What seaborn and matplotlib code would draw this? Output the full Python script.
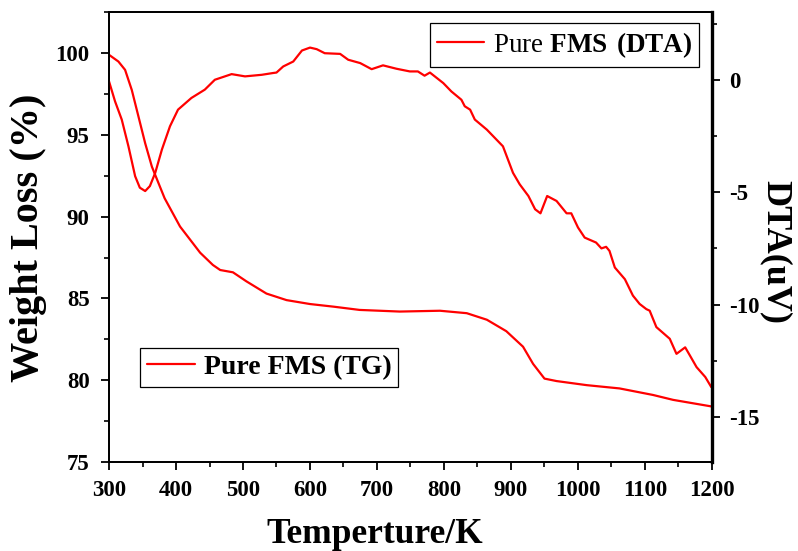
import matplotlib
matplotlib.use("Agg")
import matplotlib.pyplot as plt
from matplotlib.ticker import MultipleLocator
import pandas as pd
import seaborn as sns

# Thermogravimetric curve: temperature (K) vs weight (%)
tg_temp = [300, 314, 324, 334, 344, 354, 364, 374, 383, 406, 436, 455, 466,
           485, 505, 535, 565, 600, 635, 674, 734, 794, 834, 864, 893, 918,
           933, 950, 968, 1013, 1062, 1112, 1142, 1199]
tg_weight = [99.9, 99.49, 98.98, 97.75, 96.12, 94.49, 93.06, 92.04, 91.13,
             89.4, 87.8, 87.05, 86.74, 86.6, 86.05, 85.3, 84.9, 84.66, 84.5,
             84.3, 84.2, 84.25, 84.1, 83.7, 83.0, 82.05, 81.0, 80.1, 79.95,
             79.7, 79.5, 79.1, 78.8, 78.4]

# Differential thermal analysis curve: temperature (K) vs signal (uV)
dta_temp = [300, 309, 319, 329, 339, 346, 354, 361, 369, 379, 391, 403, 423,
            443, 458, 483, 503, 528, 545, 550, 560, 575, 588, 600, 610, 622,
            645, 657, 675, 692, 709, 729, 749, 761, 771, 779, 799, 811, 826,
            831, 839, 846, 864, 888, 903, 913, 926, 936, 944, 954, 968, 983,
            990, 1000, 1010, 1027, 1035, 1042, 1047, 1055, 1070, 1082, 1092,
            1102, 1107, 1117, 1137, 1147, 1160, 1167, 1177, 1190, 1199]
dta_signal = [-0.07, -0.96, -1.77, -2.96, -4.29, -4.80, -4.95, -4.73, -4.14,
              -3.10, -2.07, -1.33, -0.81, -0.44, 0.00, 0.25, 0.15, 0.22, 0.30,
              0.32, 0.59, 0.81, 1.30, 1.43, 1.36, 1.18, 1.15, 0.89, 0.74,
              0.47, 0.64, 0.49, 0.37, 0.37, 0.18, 0.32, -0.15, -0.52, -0.89,
              -1.18, -1.33, -1.77, -2.22, -2.96, -4.14, -4.65, -5.17, -5.76,
              -5.94, -5.17, -5.39, -5.94, -5.94, -6.57, -7.02, -7.24, -7.50,
              -7.43, -7.61, -8.35, -8.87, -9.60, -9.97, -10.20, -10.27,
              -11.00, -11.52, -12.19, -11.90, -12.26, -12.78, -13.22, -13.67]

x_ticks = [300, 400, 500, 600, 700, 800, 900, 1000, 1100, 1200]
tg_ticks = [75, 80, 85, 90, 95, 100]
dta_ticks = [-15, -10, -5, 0]

tg_df = pd.DataFrame({"Temperature": tg_temp, "Weight": tg_weight})
dta_df = pd.DataFrame({"Temperature": dta_temp, "DTA": dta_signal})

sns.set_theme(style="ticks")
plt.rcParams["font.family"] = ["Liberation Serif", "DejaVu Serif"]
plt.rcParams["font.weight"] = "bold"
plt.rcParams["mathtext.fontset"] = "custom"
plt.rcParams["mathtext.rm"] = "Liberation Serif"
plt.rcParams["mathtext.bf"] = "Liberation Serif:bold"
plt.rcParams["axes.unicode_minus"] = False
for key in ("text.color", "axes.labelcolor", "xtick.color", "ytick.color",
            "axes.edgecolor"):
    plt.rcParams[key] = "black"

fig = plt.figure(figsize=(7.98, 5.51), dpi=100)
ax = fig.add_axes([0.1366, 0.1615, 0.7556, 0.8162])
ax2 = ax.twinx()

red = "#ff0000"
sns.lineplot(data=tg_df, x="Temperature", y="Weight", ax=ax, color=red,
             lw=1.6, label="Pure FMS (TG)", legend=False, sort=False)
sns.lineplot(data=dta_df, x="Temperature", y="DTA", ax=ax2, color=red,
             lw=1.6, label=r"Pure $\mathbf{FMS\ (DTA)}$", legend=False,
             sort=False)

ax.set_xlim(300, 1200)
ax.set_ylim(75, 102.5)
ax2.set_ylim(-17, 3)

ax.set_xticks(x_ticks)
ax.set_yticks(tg_ticks)
ax2.set_yticks(dta_ticks)
ax.xaxis.set_minor_locator(MultipleLocator(50))
ax.yaxis.set_minor_locator(MultipleLocator(2.5))
ax2.yaxis.set_minor_locator(MultipleLocator(2.5))

tick_font = 16.5
ax.tick_params(axis="both", which="major", direction="out", length=6,
               width=1.3, labelsize=tick_font, colors="black")
ax.tick_params(axis="y", which="major", pad=8)
ax.tick_params(axis="x", which="major", pad=7)
ax.tick_params(axis="both", which="minor", direction="out", length=3.5,
               width=1.2, colors="black")
ax.tick_params(axis="x", top=False, which="both")
ax2.tick_params(axis="y", which="major", direction="out", length=6,
                width=1.3, labelsize=tick_font, colors="black", pad=6)
ax2.tick_params(axis="y", which="minor", direction="out", length=3.5,
                width=1.2, colors="black")
for lbl in ax.get_xticklabels() + ax.get_yticklabels() + ax2.get_yticklabels():
    lbl.set_fontweight("bold")

for sp in ax.spines.values():
    sp.set_linewidth(1.3)
    sp.set_color("black")
for sp in ax2.spines.values():
    sp.set_linewidth(1.3)
    sp.set_color("black")
ax2.spines["right"].set_linewidth(2.4)

ax.set_xlabel("Temperture/K", fontsize=25.5, fontweight="bold")
ax.xaxis.set_label_coords(0.441, -0.125)
ax.xaxis.label.set_va("top")

ax.set_ylabel("Weight Loss (%)", fontsize=29, fontweight="bold")
ax.yaxis.set_label_coords(-0.103, 0.498)

ax2.set_ylabel("DTA(uV)", fontsize=26, fontweight="bold", rotation=-90)
ax2.yaxis.label.set_va("bottom")
ax2.yaxis.set_label_coords(1.078, 0.467)

leg_kw = dict(frameon=True, fancybox=False, edgecolor="black", framealpha=1,
              borderaxespad=0, handlelength=1.75, handletextpad=0.3,
              borderpad=0.25)
leg1 = ax.legend(loc="lower left", bbox_to_anchor=(0.051, 0.167),
                 prop={"family": "Liberation Serif", "weight": "bold",
                       "size": 20}, **leg_kw)
leg1.get_frame().set_linewidth(0.9)
leg2 = ax2.legend(loc="upper right", bbox_to_anchor=(0.978, 0.9756),
                  prop={"family": "Liberation Serif", "weight": "normal",
                        "size": 19.5}, **leg_kw)
leg2.get_frame().set_linewidth(0.9)

fig.savefig("out.png", dpi=100)
